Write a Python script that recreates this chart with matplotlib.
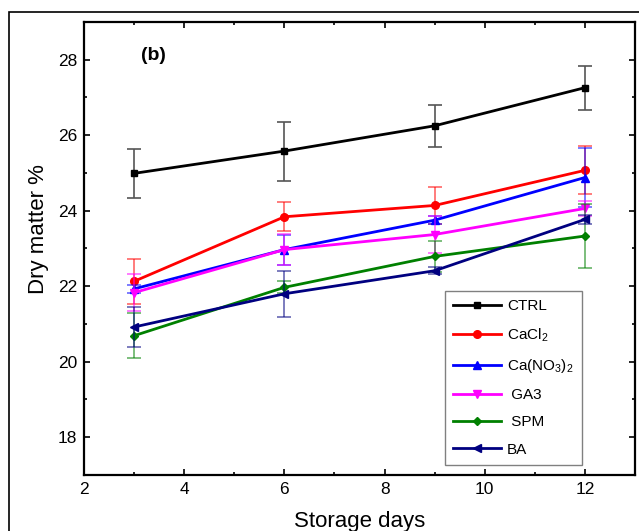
import matplotlib
matplotlib.use("Agg")
import matplotlib.pyplot as plt
from matplotlib.patches import Rectangle
from matplotlib.ticker import MultipleLocator
from matplotlib.colors import to_rgba

plt.rcParams["font.family"] = ["Liberation Sans", "DejaVu Sans"]

days = [3, 6, 9, 12]

ctrl = [24.99, 25.58, 26.25, 27.26]
ctrl_err = [0.65, 0.78, 0.56, 0.58]
cacl2 = [22.13, 23.84, 24.14, 25.07]
cacl2_err = [0.60, 0.39, 0.49, 0.64]
cano3 = [21.93, 22.97, 23.75, 24.88]
cano3_err = [0.11, 0.40, 0.11, 0.78]
ga3 = [21.83, 22.97, 23.37, 24.06]
ga3_err = [0.49, 0.42, 0.49, 0.20]
spm = [20.69, 21.97, 22.79, 23.33]
spm_err = [0.60, 0.16, 0.41, 0.84]
ba = [20.92, 21.80, 22.41, 23.77]
ba_err = [0.53, 0.61, 0.09, 0.12]

series = [
	("CTRL", ctrl, ctrl_err, "black", "s", 5),
	(r"CaCl$\mathregular{_2}$", cacl2, cacl2_err, "#ff0000", "o", 5.5),
	(r"Ca(NO$\mathregular{_3}$)$\mathregular{_2}$", cano3, cano3_err, "#0000ff", "^", 5.5),
	(" GA3", ga3, ga3_err, "#ff00ff", "v", 5.5),
	(" SPM", spm, spm_err, "#008000", "D", 4.5),
	("BA", ba, ba_err, "#000080", "<", 5.5),
]

fig = plt.figure(figsize=(6.39, 5.31), dpi=100)
ax = fig.add_axes([0.1315, 0.1055, 0.8623, 0.8531])

# outer frame of the original figure (cut off on the right and bottom)
fig.patches.append(Rectangle((0.0141, -0.2), 1.2, 0.9774 + 0.2, transform=fig.transFigure,
	fill=False, edgecolor="black", linewidth=1.2))

for label, values, errors, color, marker, size in series:
	ecolor = to_rgba(color, 0.6) if color != "black" else "#555555"
	ax.errorbar(days, values, yerr=errors, fmt="none", ecolor=ecolor,
		elinewidth=1.2, capsize=5, capthick=1.2)
	ax.plot(days, values, color=color, marker=marker, markersize=size,
		linewidth=2.0, label=label)

ax.set_xlim(2, 13)
ax.set_ylim(17, 29)
ax.xaxis.set_major_locator(MultipleLocator(2))
ax.xaxis.set_minor_locator(MultipleLocator(1))
ax.yaxis.set_major_locator(MultipleLocator(2))
ax.yaxis.set_minor_locator(MultipleLocator(1))
ax.tick_params(which="both", direction="in", top=True, right=True, width=1.2)
ax.tick_params(which="major", length=4, labelsize=12.5, pad=5)
ax.tick_params(which="minor", length=2)
for spine in ax.spines.values():
	spine.set_linewidth(1.6)

ax.set_xlabel("Storage days", fontsize=16)
ax.set_ylabel("Dry matter %", fontsize=16)
ax.xaxis.set_label_coords(0.5, -0.079)
ax.yaxis.set_label_coords(-0.064, 0.543)

ax.text(3.38, 28.1, "(b)", fontsize=14, fontweight="bold", ha="center", va="center")

legend = ax.legend(loc="upper left", bbox_to_anchor=(0.655, 0.406), borderaxespad=0,
	fontsize=11, handlelength=3.1, handletextpad=0.4, labelspacing=0.86,
	borderpad=0.55, fancybox=False, framealpha=1)
legend.get_frame().set_edgecolor("#808080")
legend.get_frame().set_linewidth(1.0)

fig.savefig("out.png", dpi=100)
